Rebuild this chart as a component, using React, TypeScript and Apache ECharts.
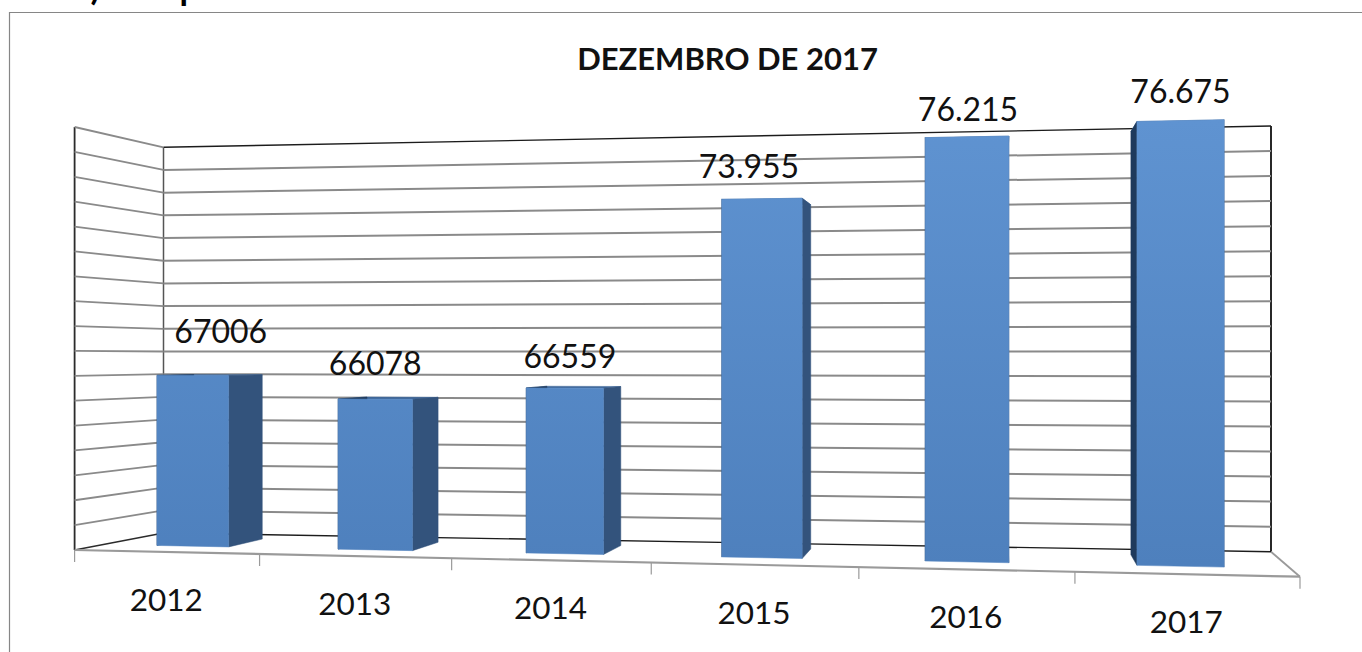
import React, { useEffect, useRef } from "react";
import * as echarts from "echarts";

const categories = ["2012", "2013", "2014", "2015", "2016", "2017"];
const seriesValues = [67006, 66078, 66559, 73955, 76215, 76675];
const valueLabels = ["67006", "66078", "66559", "73.955", "76.215", "76.675"];
const gridValues = [
  60000, 61000, 62000, 63000, 64000, 65000, 66000, 67000, 68000, 69000, 70000,
  71000, 72000, 73000, 74000, 75000, 76000, 77000,
];
const titleText = "DEZEMBRO DE 2017";
const clippedHeading = "6.1.1) Comparativo do total de CRMs na base de dados local";

// Layout of the projected box (page pixels)
const GRID = { left: 100, top: 100, width: 1000, height: 400 };
const FL = [74.6, 550], FR = [1300, 576.7], BL = [163.5, 533], BR = [1271, 551.7];
const HFL = 423, HFR = 475, HBL = 385.7, HBR = 425.7;
const PERSPECTIVE = 0.125;
const BAR_RATIO = 0.4;
const BAR_FRONT = 0.33, BAR_BACK = 0.77;
const labelNudge = [[28, -45], [0, -37], [5, -33], [-13, -33], [1, -28], [0, -30]];

const mix = (a: number, b: number, k: number) => a + (b - a) * k;
const warpU = (s: number) => s / (1 + PERSPECTIVE * (1 - s));

// s: 0..1 across categories, w: 0 front..1 back, t: 0..1 up the value axis
function project(s: number, w: number, t: number): number[] {
  const u = warpU(s);
  const x = mix(mix(FL[0], FR[0], u), mix(BL[0], BR[0], u), w);
  const y = mix(mix(FL[1], FR[1], u), mix(BL[1], BR[1], u), w);
  const h = mix(mix(HFL, HFR, u), mix(HBL, HBR, u), w);
  return [x, y - t * h];
}

const line = (a: number[], b: number[], stroke: string, lineWidth: number) => ({
  type: "line",
  shape: { x1: a[0], y1: a[1], x2: b[0], y2: b[1] },
  style: { stroke, lineWidth },
  silent: true,
});
const poly = (points: number[][], fill: any) => ({
  type: "polygon",
  shape: { points },
  style: { fill, stroke: fill, lineWidth: 0.5 },
  silent: true,
});
const tOf = (api: any, value: number) =>
  (GRID.top + GRID.height - api.coord([0, value])[1]) / GRID.height;

const GRID_COLOR = "#8a8a8a";
const DARK = "#2b2b2b";

function renderWall(_: any, api: any) {
  const v = api.value(0) as number;
  const t = tOf(api, v);
  const children: any[] = [];
  const isBase = v === gridValues[0];
  const isTop = v === gridValues[gridValues.length - 1];
  const backColor = isBase || isTop ? "#1c1c1c" : GRID_COLOR;
  children.push(line(project(0, 1, t), project(1, 1, t), backColor, isBase || isTop ? 1.4 : 2));
  children.push(line(project(0, 0, t), project(0, 1, t), isBase ? DARK : GRID_COLOR, isBase ? 1.3 : 1.8));
  if (isBase) {
    children.push(line(project(0, 0, 0), project(0, 0, 1), DARK, 1.8));
    children.push(line(project(0, 1, 0), project(0, 1, 1), "#555555", 1.5));
    children.push(line(project(1, 1, 0), project(1, 1, 1), "#111111", 1.8));
    children.push(line(project(0, 0, 0), project(1, 0, 0), "#9a9a9a", 2.2));
    children.push(line(project(1, 0, 0), project(1, 1, 0), "#9a9a9a", 1.8));
    for (let i = 0; i <= categories.length; i++) {
      const p = project(i / categories.length, 0, 0);
      children.push(line(p, [p[0], p[1] + 12], "#9a9a9a", 1.2));
    }
  }
  return { type: "group", children };
}

function renderBar(_: any, api: any) {
  const i = api.value(0) as number;
  const c = api.coord([i, 0]);
  const band = api.size([1, 0])[0];
  const sc = (c[0] - GRID.left) / GRID.width;
  const half = ((band / GRID.width) * BAR_RATIO) / 2;
  const s0 = sc - half, s1 = sc + half;
  const t = tOf(api, api.value(1) as number);
  const w0 = BAR_FRONT, w1 = BAR_BACK;
  const fb0 = project(s0, w0, 0), fb1 = project(s1, w0, 0);
  const ft0 = project(s0, w0, t), ft1 = project(s1, w0, t);
  const bb0 = project(s0, w1, 0), bb1 = project(s1, w1, 0);
  const bt0 = project(s0, w1, t), bt1 = project(s1, w1, t);
  const frontFill = new echarts.graphic.LinearGradient(
    0, 120, 0, 565,
    [
      { offset: 0, color: "#5f93d1" },
      { offset: 1, color: "#4e80bd" },
    ],
    true,
  );
  const nudge = labelNudge[i];
  const mid = [(ft0[0] + ft1[0]) / 2, (ft0[1] + ft1[1]) / 2];
  const axisPoint = project(sc, 0, 0);
  return {
    type: "group",
    children: [
      poly([ft0, ft1, bt1, bt0], "#3f6799"),
      poly([fb0, ft0, bt0, bb0], "#1f3a5c"),
      poly([fb1, ft1, bt1, bb1], "#33537c"),
      poly([fb0, fb1, ft1, ft0], frontFill),
      {
        type: "text",
        style: {
          x: mid[0] + nudge[0],
          y: mid[1] + nudge[1],
          text: valueLabels[i],
          fill: "#111111",
          font: '32px Lato, "Liberation Sans", sans-serif',
          align: "center",
          verticalAlign: "middle",
        },
        silent: true,
      },
      {
        type: "text",
        style: {
          x: axisPoint[0],
          y: axisPoint[1] + 47,
          text: categories[i],
          fill: "#111111",
          font: '31.5px Lato, "Liberation Sans", sans-serif',
          align: "center",
          verticalAlign: "middle",
        },
        silent: true,
      },
    ],
  };
}

export default function App() {
  const ref = useRef<HTMLDivElement>(null);
  useEffect(() => {
    const chart = echarts.init(ref.current!, undefined, { renderer: "svg" });
    chart.setOption({
      animation: false,
      backgroundColor: "#ffffff",
      title: {
        text: titleText,
        left: 722.5,
        top: 37,
        textAlign: "center",
        textStyle: {
          fontFamily: 'Lato, "Liberation Sans", sans-serif',
          fontWeight: "bold",
          fontSize: 31,
          color: "#111111",
        },
      },
      grid: { ...GRID },
      xAxis: { type: "category", data: categories, show: false },
      yAxis: { type: "value", min: 60000, max: 77000, interval: 1000, show: false },
      graphic: [
        {
          type: "polyline",
          shape: { points: [[9.5, 660], [9.5, 12.5], [1370, 12.5]] },
          style: { stroke: "#868686", lineWidth: 1.2, fill: "none" },
          silent: true,
        },
        {
          type: "text",
          style: {
            x: 14,
            y: 4,
            text: clippedHeading,
            fill: "#000000",
            font: 'bold 34.5px Lato, "Liberation Sans", sans-serif',
            verticalAlign: "bottom",
          },
          silent: true,
        },
      ],
      series: [
        {
          type: "custom",
          name: "grade",
          renderItem: renderWall,
          data: gridValues.map((v) => [v]),
          encode: { y: 0 },
          silent: true,
          clip: false,
          z: 1,
        },
        {
          type: "custom",
          name: "total",
          renderItem: renderBar,
          data: seriesValues.map((v, i) => [i, v]),
          encode: { x: 0, y: 1 },
          silent: true,
          clip: false,
          z: 2,
        },
      ],
    });
    return () => chart.dispose();
  }, []);
  return (
    <div
      ref={ref}
      style={{ position: "absolute", left: 0, top: 0, width: 1362, height: 652 }}
    />
  );
}
